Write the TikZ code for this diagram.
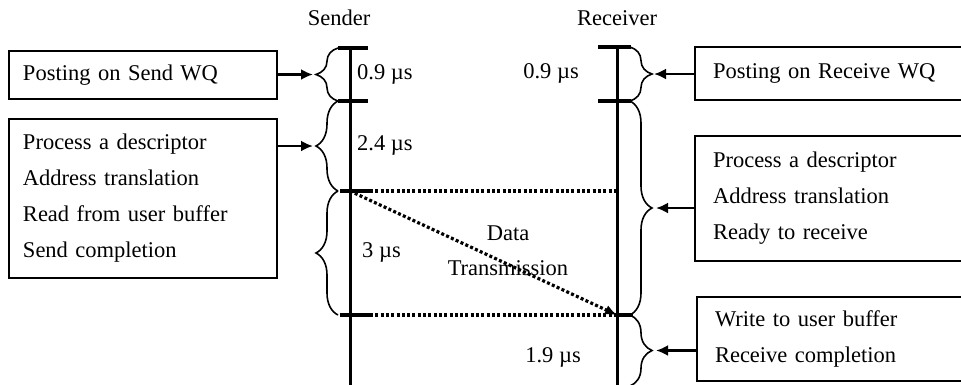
\documentclass[tikz,border=0pt]{standalone}
\usepackage{fontspec}
\setmainfont{Liberation Serif}
\usetikzlibrary{decorations.pathreplacing,arrows.meta}
\begin{document}
\begin{tikzpicture}[x=1pt,y=-1pt,
  font=\fontsize{22.5}{36}\selectfont,
  box/.style={draw,line width=2pt,anchor=north west,inner ysep=0pt,align=left},
  lbox/.style={box,inner xsep=14pt,text width=240pt,minimum width=268pt},
  rbox/.style={box,inner xsep=18pt,text width=260pt,minimum width=296pt},
  life/.style={line width=3pt},
  tick/.style={line width=3.4pt},
  dots/.style={line width=3.2pt,dash pattern=on 3pt off 2.3pt},
  brc/.style={line width=1.6pt,decorate,decoration={brace,amplitude=22pt}},
  arr/.style={line width=2.4pt,-{Latex[length=12pt,width=11pt]}},
  lbl/.style={inner sep=0pt}]
\useasboundingbox (0,0) rectangle (961,384);
\clip (0,0) rectangle (961,384);

% headers
\node[lbl] (snd) at (339,18) {Sender};
\node[lbl] (rcv) at (617,18) {Receiver};

% lifelines
\coordinate (sT) at (350,48);
\coordinate (sB) at (350,386);
\coordinate (rT) at (617,47);
\coordinate (rB) at (617,386);
\draw[life] (sT) -- (sB);
\draw[life] (rT) -- (rB);

% sender ticks
\coordinate (s1) at (338,48);  \coordinate (s1e) at (368,48);
\coordinate (s2) at (338,101); \coordinate (s2e) at (368,101);
\coordinate (s3) at (340,191); \coordinate (s3e) at (370,191);
\coordinate (s4) at (340,315); \coordinate (s4e) at (370,315);
\draw[tick] (s1) -- (s1e);
\draw[tick] (s2) -- (s2e);
\draw[tick] (s3) -- (s3e);
\draw[tick] (s4) -- (s4e);

% receiver ticks
\coordinate (r1) at (598,47);  \coordinate (r1e) at (631,47);
\coordinate (r2) at (598,101); \coordinate (r2e) at (631,101);
\coordinate (r3) at (617,191);
\coordinate (r4) at (617,315); \coordinate (r4e) at (633,315);
\draw[tick] (r1) -- (r1e);
\draw[tick] (r2) -- (r2e);
\draw[tick] (r4) -- (r4e);

% dotted lines
\coordinate (s3o) at (350,191);
\draw[dots] (s3e) -- (r3);
\draw[dots] (s4e) -- (r4);
\draw[dots,-{Latex[length=12pt,width=10pt]}] (s3o) -- (r4);

% sender braces (tip left)
\coordinate (sb1t) at (338,48);  \coordinate (sb1b) at (338,101);
\coordinate (sb2t) at (338,101); \coordinate (sb2b) at (338,191);
\coordinate (sb3t) at (338,191); \coordinate (sb3b) at (338,315);
\draw[brc] (sb1b) -- (sb1t);
\draw[brc] (sb2b) -- (sb2t);
\draw[brc] (sb3b) -- (sb3t);

% receiver braces (tip right)
\coordinate (rb1t) at (630,47);  \coordinate (rb1b) at (630,101);
\coordinate (rb2t) at (630,101); \coordinate (rb2b) at (630,315);
\coordinate (rb3t) at (630,315); \coordinate (rb3b) at (630,386);
\draw[brc] (rb1t) -- (rb1b);
\draw[brc] (rb2t) -- (rb2b);
\draw[brc] (rb3t) -- (rb3b);

% time labels
\node[lbl,anchor=west] (t09s) at (357,74) {0.9 µs};
\node[lbl,anchor=west] (t24) at (357,145) {2.4 µs};
\node[lbl,anchor=west] (t3) at (362,252) {3 µs};
\node[lbl,anchor=east] (t09r) at (579,73) {0.9 µs};
\node[lbl,anchor=east] (t19) at (581,357) {1.9 µs};
\node[lbl] (data) at (508,233) {Data};
\node[lbl] (trans) at (508,268) {Transmission};

% boxes
\node[lbox,minimum height=48pt] (b1) at (8,50) {Posting on Send WQ};
\node[lbox,minimum height=159pt] (b2) at (8,118)
  {Process a descriptor\\Address translation\\Read from user buffer\\Send completion};
\node[rbox,minimum height=53pt] (b3) at (694,46) {Posting on Receive WQ};
\node[rbox,minimum height=125pt] (b4) at (694,135)
  {Process a descriptor\\Address translation\\Ready to receive};
\node[rbox,minimum height=84pt] (b5) at (696,296)
  {Write to user buffer\\Receive completion};

% arrows into braces
\coordinate (a1) at (313,74.5);
\coordinate (a2) at (313,146);
\coordinate (a3) at (654,74);
\coordinate (a4) at (656,208);
\coordinate (a5) at (656,350.5);
\draw[arr] (b1.east |- a1) -- (a1);
\draw[arr] (b2.east |- a2) -- (a2);
\draw[arr] (b3.west |- a3) -- (a3);
\draw[arr] (b4.west |- a4) -- (a4);
\draw[arr] (b5.west |- a5) -- (a5);
\end{tikzpicture}
\end{document}
